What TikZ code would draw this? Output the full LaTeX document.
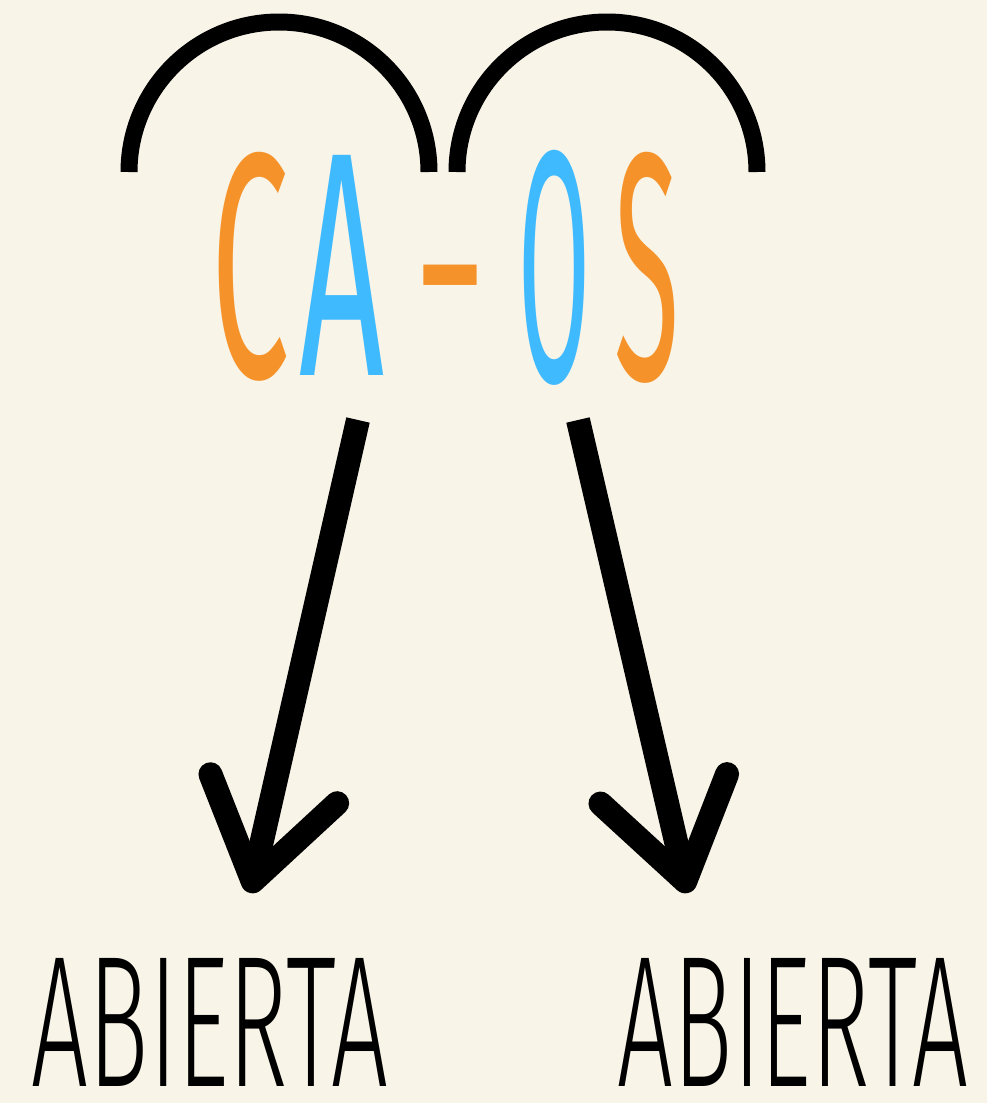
\documentclass[tikz,border=0pt]{standalone}
\usepackage{fontspec}
\setmainfont{Fira Sans}
\usepackage{graphicx}
\usetikzlibrary{arrows.meta}
\definecolor{paper}{HTML}{F8F4E8}
\definecolor{ink}{HTML}{000000}
\definecolor{naranja}{HTML}{F5932A}
\definecolor{celeste}{HTML}{40BAFF}
\tikzset{
  bow/.style={draw=ink, line width=0.34cm},
  shaft/.style={draw=ink, line width=0.48cm, -{Straight Barb[length=1.9cm,width=2.6cm,round]}},
  syl/.style={inner sep=0pt},
  word/.style={inner sep=0pt, text=ink},
}
\newcommand{\Light}{\fontspec{Fira Sans Light}}
\begin{document}
\begin{tikzpicture}[x=0.02cm, y=-0.02cm]
\fill[paper] (0,0) rectangle (987,1103);
\useasboundingbox (0,0) rectangle (987,1103);

% the two arcs over the syllables
\draw[bow] (129,172) arc[start angle=180, end angle=360, radius=150];
\draw[bow] (457,172) arc[start angle=180, end angle=360, radius=150];

% CA-OS
\node[syl, text=naranja] (c)    at (251,267) {\resizebox{1.56cm}{4.5cm}{C}};
\node[syl, text=celeste] (a)    at (342,265) {\resizebox{1.7cm}{4.4cm}{A}};
\node[syl, text=naranja] (dash) at (450,296) {\fontsize{95pt}{95pt}\selectfont\bfseries -};
\node[syl, text=celeste] (o)    at (554,268) {\resizebox{1.44cm}{4.62cm}{O}};
\node[syl, text=naranja] (s)    at (647,268) {\resizebox{1.3cm}{4.54cm}{S}};

% labels below
\node[word] (left)  at (210,1022) {\resizebox{7.12cm}{2.56cm}{\Light ABIERTA}};
\node[word] (right) at (793,1022) {\resizebox{7.0cm}{2.56cm}{\Light ABIERTA}};

% arrows
\coordinate (ca-out) at (358,420);
\coordinate (os-out) at (578,420);
\coordinate (l-tip) at (250,893);
\coordinate (r-tip) at (688,893);
\draw[shaft] (ca-out) -- (l-tip);
\draw[shaft] (os-out) -- (r-tip);
\end{tikzpicture}
\end{document}
